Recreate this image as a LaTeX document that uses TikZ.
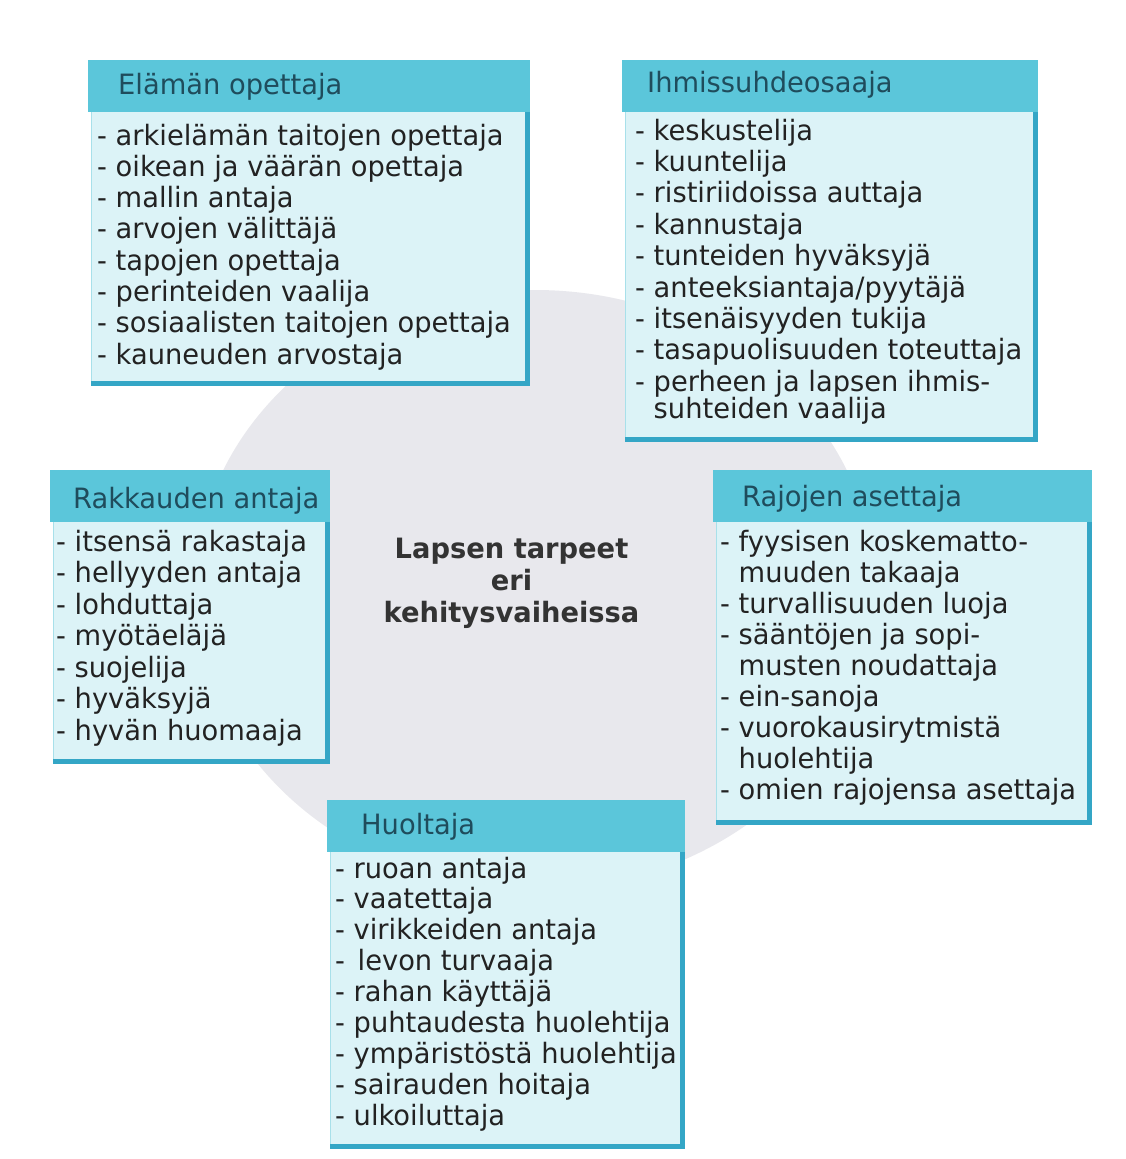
\documentclass[tikz,border=0pt]{standalone}
\usepackage{fontspec}
\setmainfont{DejaVu Sans}[FakeStretch=0.975]
\definecolor{headc}{HTML}{5BC6DA}
\definecolor{bodyc}{HTML}{DCF3F7}
\definecolor{borderc}{HTML}{34A6C6}
\definecolor{edgec}{HTML}{A8E0EA}
\definecolor{headtext}{HTML}{1F4C5C}
\definecolor{itemtext}{HTML}{222222}
\definecolor{titletext}{HTML}{333333}
\definecolor{bggrey}{HTML}{E8E8ED}
\newcommand\kidbox[5]{% x0, x1, ytop, yhead, ybottom
  \fill[bodyc] (#1+3,#4) rectangle (#2,#5);
  \draw[edgec, line width=1.2pt] (#1+3.6,#4) -- (#1+3.6,#5);
  \fill[headc] (#1,#3) rectangle (#2,#4);
  \draw[borderc, line width=5pt] (#2-2.5,#4) -- (#2-2.5,#5-2.5) -- (#1+3,#5-2.5);
}
\begin{document}
\begin{tikzpicture}[x=1pt,y=-1pt,
  head/.style={anchor=base west, inner sep=0pt, text=headtext, font=\fontsize{28}{31}\selectfont},
  item/.style={anchor=base west, inner sep=0pt, text=itemtext, font=\fontsize{28}{31}\selectfont},
  ctitle/.style={anchor=north, inner sep=0pt, align=center, text=titletext, font=\bfseries\fontsize{28}{32}\selectfont}]
\useasboundingbox (0,0) rectangle (1125,1159);
\fill[white] (0,0) rectangle (1125,1159);
\fill[bggrey] (535,590) ellipse [x radius=340, y radius=300];

% Box 1: Elämän opettaja
\kidbox{88}{530}{60}{112}{386}
\node[head] (h1) at (118,94) {Elämän opettaja};
\foreach \t [count=\i from 0] in {arkielämän taitojen opettaja, oikean ja väärän opettaja, mallin antaja, arvojen välittäjä, tapojen opettaja, perinteiden vaalija, sosiaalisten taitojen opettaja, kauneuden arvostaja}
  \node[item] (a\i) at (97,145+\i*31.3) {- \t};

% Box 2: Ihmissuhdeosaaja
\kidbox{622}{1038}{60}{112}{442}
\node[head] (h2) at (647,92) {Ihmissuhdeosaaja};
\foreach \t [count=\i from 0] in {keskustelija, kuuntelija, ristiriidoissa auttaja, kannustaja, tunteiden hyväksyjä, {anteeksiantaja/pyytäjä}, itsenäisyyden tukija, tasapuolisuuden toteuttaja, perheen ja lapsen ihmis-}
  \node[item] (b\i) at (635,140+\i*31.4) {- \t};
\node[item] (b9) at (635,418) {\phantom{- }suhteiden vaalija};

% Box 3: Rakkauden antaja
\kidbox{50}{330}{470}{522}{764}
\node[head] (h3) at (73,508) {Rakkauden antaja};
\foreach \t [count=\i from 0] in {itsensä rakastaja, hellyyden antaja, lohduttaja, myötäeläjä, suojelija, hyväksyjä, hyvän huomaaja}
  \node[item] (c\i) at (56,551+\i*31.5) {- \t};

% Box 4: Rajojen asettaja
\kidbox{713}{1092}{470}{522}{825}
\node[head] (h4) at (742,506) {Rajojen asettaja};
\foreach \t [count=\i from 0] in {- fyysisen koskematto-, \phantom{- }muuden takaaja, - turvallisuuden luoja, - sääntöjen ja sopi-, \phantom{- }musten noudattaja, - ein-sanoja, - vuorokausirytmistä, \phantom{- }huolehtija, - omien rajojensa asettaja}
  \node[item] (d\i) at (720,551+\i*31.1) {\t};

% Box 5: Huoltaja
\kidbox{327}{685}{800}{852}{1149}
\node[head] (h5) at (361,834) {Huoltaja};
\foreach \t [count=\i from 0] in {ruoan antaja, vaatettaja, virikkeiden antaja, \hspace{4pt}levon turvaaja, rahan käyttäjä, puhtaudesta huolehtija, ympäristöstä huolehtija, sairauden hoitaja, ulkoiluttaja}
  \node[item] (e\i) at (335,878+\i*30.9) {- \t};

% Centre title
\node[ctitle] (title) at (511.5,537.5) {Lapsen tarpeet\\eri\\kehitysvaiheissa};
\end{tikzpicture}
\end{document}
